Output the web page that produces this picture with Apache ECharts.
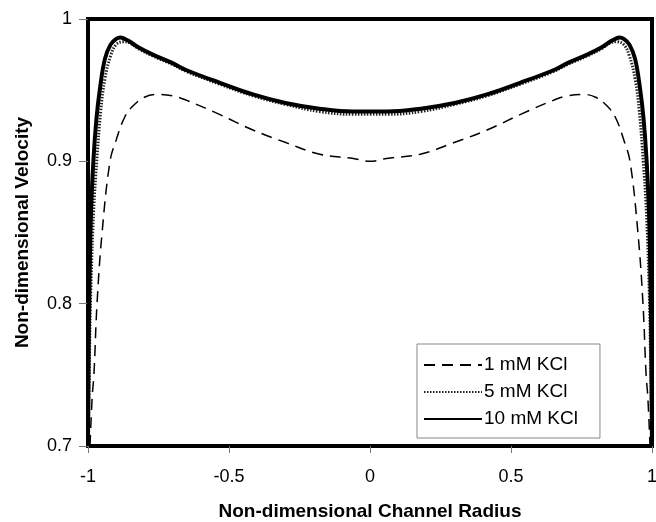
<!DOCTYPE html>
<html>
<head>
<meta charset="utf-8">
<script src="https://cdn.jsdelivr.net/npm/echarts@6/dist/echarts.min.js"></script>
<style>
  html, body { margin: 0; padding: 0; background: #fff; }
  #chart { width: 656px; height: 522px; }
</style>
</head>
<body>
<div id="chart"></div>
<script>
// velocity profiles across the channel
var r1mM = [-0.993, -0.985, -0.979, -0.968, -0.95, -0.922, -0.9, -0.87, -0.84, -0.8, -0.759, -0.7, -0.652, -0.534, -0.415, -0.296, -0.178, -0.059, 0,
            0.059, 0.178, 0.296, 0.415, 0.534, 0.652, 0.7, 0.759, 0.8, 0.84, 0.87, 0.9, 0.922, 0.95, 0.968, 0.979, 0.985, 0.993];
var v1mM = [0.700, 0.735, 0.750, 0.800, 0.850, 0.900, 0.915, 0.931, 0.939, 0.945, 0.947, 0.946, 0.943, 0.933, 0.922, 0.913, 0.905, 0.902, 0.900,
            0.902, 0.905, 0.913, 0.922, 0.933, 0.943, 0.946, 0.947, 0.945, 0.939, 0.931, 0.915, 0.900, 0.850, 0.800, 0.750, 0.735, 0.700];

var r5mM = [-0.999, -0.995, -0.99, -0.98, -0.969, -0.955, -0.94, -0.92, -0.9, -0.875, -0.85, -0.82, -0.77, -0.7, -0.65, -0.53, -0.415, -0.3, -0.18, -0.06, 0,
            0.06, 0.18, 0.3, 0.415, 0.53, 0.65, 0.7, 0.77, 0.82, 0.85, 0.875, 0.9, 0.92, 0.94, 0.955, 0.969, 0.98, 0.99, 0.995, 0.999];
var v5mM = [0.700, 0.760, 0.810, 0.865, 0.900, 0.935, 0.958, 0.974, 0.982, 0.984, 0.983, 0.979, 0.974, 0.968, 0.963, 0.954, 0.946, 0.940, 0.935, 0.933, 0.933,
            0.933, 0.935, 0.940, 0.946, 0.954, 0.963, 0.968, 0.974, 0.979, 0.983, 0.984, 0.982, 0.974, 0.958, 0.935, 0.900, 0.865, 0.810, 0.760, 0.700];

var r10mM = [-1, -0.997, -0.995, -0.99, -0.981, -0.97, -0.957, -0.94, -0.92, -0.9, -0.885, -0.86, -0.82, -0.77, -0.7, -0.65, -0.53, -0.415, -0.3, -0.18, -0.06, 0,
             0.06, 0.18, 0.3, 0.415, 0.53, 0.65, 0.7, 0.77, 0.82, 0.86, 0.885, 0.9, 0.92, 0.94, 0.957, 0.97, 0.981, 0.99, 0.995, 0.997, 1];
var v10mM = [0.700, 0.780, 0.810, 0.860, 0.900, 0.930, 0.952, 0.972, 0.982, 0.986, 0.987, 0.985, 0.980, 0.975, 0.969, 0.964, 0.955, 0.947, 0.941, 0.937, 0.935, 0.935,
             0.935, 0.937, 0.941, 0.947, 0.955, 0.964, 0.969, 0.975, 0.980, 0.985, 0.987, 0.986, 0.982, 0.972, 0.952, 0.930, 0.900, 0.860, 0.810, 0.780, 0.700];

var seriesNames = ['1 mM KCl', '5 mM KCl', '10 mM KCl'];

function pairs(xs, ys) {
    var out = [];
    for (var i = 0; i < xs.length; i++) out.push([xs[i], ys[i]]);
    return out;
}

var myChart = echarts.init(document.getElementById('chart'));
var font = '"Liberation Sans", Arial, sans-serif';

var option = {
    animation: false,
    grid: {
        left: 88, right: 4, top: 19, bottom: 76,
        outerBoundsMode: 'none',
        containLabel: false,
        show: true,
        borderColor: '#000',
        borderWidth: 4
    },
    legend: {
        orient: 'vertical',
        left: 417,
        top: 344,
        backgroundColor: '#fff',
        borderColor: '#888',
        borderWidth: 1,
        borderRadius: 0,
        padding: [11, 22, 9, 6],
        itemWidth: 58,
        itemHeight: 14,
        itemGap: 7,
        itemStyle: { opacity: 0 },
        textStyle: { fontFamily: font, fontSize: 19, lineHeight: 20, color: '#000', padding: [0, 0, 0, -3] },
        data: seriesNames
    },
    xAxis: {
        type: 'value',
        min: -1, max: 1, interval: 0.5,
        name: 'Non-dimensional Channel Radius',
        nameLocation: 'middle',
        nameGap: 56,
        nameTextStyle: { fontFamily: font, fontSize: 19, fontWeight: 'bold', color: '#000' },
        axisLine: { show: false, onZero: false },
        axisTick: { show: true, length: 7, lineStyle: { color: '#777', width: 1 } },
        axisLabel: { fontFamily: font, fontSize: 18, color: '#000', margin: 22 },
        splitLine: { show: false }
    },
    yAxis: {
        type: 'value',
        min: 0.7, max: 1, interval: 0.1,
        name: 'Non-dimensional Velocity',
        nameLocation: 'middle',
        nameGap: 56,
        nameTextStyle: { fontFamily: font, fontSize: 19, fontWeight: 'bold', color: '#000' },
        axisLine: { show: false, onZero: false },
        axisTick: { show: true, length: 9, lineStyle: { color: '#777', width: 1 } },
        axisLabel: { fontFamily: font, fontSize: 18, color: '#000', margin: 16 },
        splitLine: { show: false }
    },
    series: [
        {
            name: seriesNames[0],
            type: 'line',
            data: pairs(r1mM, v1mM),
            showSymbol: false,
            symbol: 'none',
            smooth: 0.4,
            clip: true,
            lineStyle: { color: '#000', width: 1.5, type: [11, 7] },
            itemStyle: { color: '#000' }
        },
        {
            name: seriesNames[1],
            type: 'line',
            data: pairs(r5mM, v5mM),
            showSymbol: false,
            symbol: 'none',
            smooth: 0.4,
            clip: true,
            lineStyle: { color: '#222', width: 3, type: [1.5, 1.5] },
            itemStyle: { color: '#222' }
        },
        {
            name: seriesNames[2],
            type: 'line',
            data: pairs(r10mM, v10mM),
            showSymbol: false,
            symbol: 'none',
            smooth: 0.4,
            clip: true,
            lineStyle: { color: '#000', width: 4 },
            itemStyle: { color: '#000' }
        }
    ]
};

myChart.setOption(option);
</script>
</body>
</html>
